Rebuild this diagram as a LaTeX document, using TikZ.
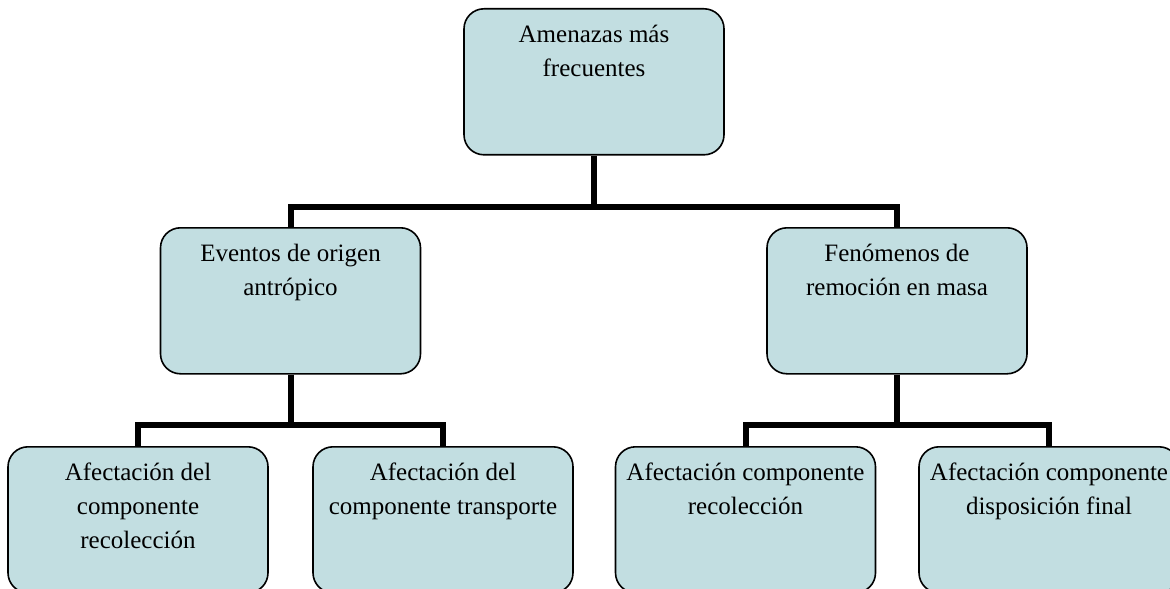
\documentclass[tikz,border=0pt]{standalone}
\usepackage{fontspec}
\setmainfont{Liberation Serif}
\definecolor{boxfill}{RGB}{194,222,225}
\newcommand{\boxlines}[1]{\parbox[t][63pt][t]{128pt}{\centering\strut #1}}
\tikzset{
  box/.style={draw=black, line width=0.8pt, fill=boxfill, rounded corners=10pt,
    anchor=north, inner xsep=1pt, inner ysep=5pt, minimum width=130pt,
    font=\fontsize{12.5}{17}\selectfont},
  conn/.style={line width=3pt, line join=miter}
}
\begin{document}
\begin{tikzpicture}[x=0.5pt, y=-0.5pt]
	\useasboundingbox (0,0) rectangle (1170,588);

	% levels
	\node[box] (top) at (594,8) {\boxlines{Amenazas más\\frecuentes}};
	\node[box] (ant) at (290.5,227) {\boxlines{Eventos de origen\\antrópico}};
	\node[box] (rem) at (897,227) {\boxlines{Fenómenos de\\remoción en masa}};

	\node[box] (recA) at (138,446) {\boxlines{Afectación del\\componente\\recolección}};
	\node[box] (tra) at (443,446) {\boxlines{Afectación del\\componente transporte}};
	\node[box] (recB) at (745.5,446) {\boxlines{Afectación componente\\recolección}};
	\node[box] (dis) at (1049,446) {\boxlines{Afectación componente\\disposición final}};

	% connectors
	\coordinate (j0) at (594,207);
	\coordinate (j1) at (290.5,425);
	\coordinate (j2) at (897,425);
	\draw[conn] (top.south) -- (j0);
	\draw[conn] (ant.north) |- (j0) -| (rem.north);
	\draw[conn] (ant.south) -- (j1);
	\draw[conn] (recA.north) |- (j1) -| (tra.north);
	\draw[conn] (rem.south) -- (j2);
	\draw[conn] (recB.north) |- (j2) -| (dis.north);
\end{tikzpicture}
\end{document}
